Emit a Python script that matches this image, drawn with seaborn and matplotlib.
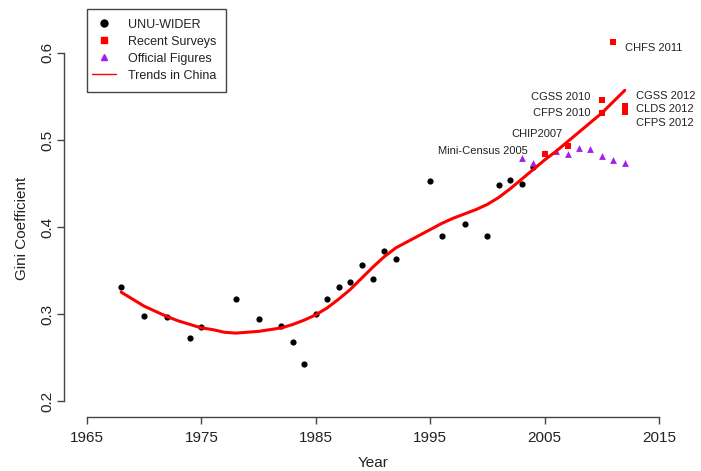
import matplotlib
matplotlib.use('Agg')
import pandas as pd
import matplotlib.pyplot as plt
import seaborn as sns
from matplotlib.lines import Line2D
from matplotlib.patches import Rectangle
from matplotlib.transforms import IdentityTransform

# UNU-WIDER estimates
wider_years = [1968, 1970, 1972, 1974, 1975, 1978, 1980, 1982, 1983, 1984,
               1985, 1986, 1987, 1988, 1989, 1990, 1991, 1992, 1995, 1996,
               1998, 2000, 2001, 2002, 2003, 2004]
wider_gini = [0.331, 0.298, 0.297, 0.272, 0.285, 0.317, 0.294, 0.286, 0.268, 0.243,
              0.300, 0.317, 0.331, 0.337, 0.356, 0.340, 0.372, 0.363, 0.453, 0.390,
              0.403, 0.390, 0.448, 0.454, 0.449, 0.469]

# recent household surveys
survey_names = ['Mini-Census 2005', 'CHIP2007', 'CGSS 2010', 'CFPS 2010',
                'CHFS 2011', 'CGSS 2012', 'CLDS 2012', 'CFPS 2012']
survey_years = [2005, 2007, 2010, 2010, 2011, 2012, 2012, 2012]
survey_gini = [0.484, 0.493, 0.546, 0.531, 0.612, 0.539, 0.536, 0.532]

# official NBS figures
official_years = [2003, 2004, 2005, 2006, 2007, 2008, 2009, 2010, 2011, 2012]
official_gini = [0.479, 0.473, 0.485, 0.487, 0.484, 0.491, 0.490, 0.481, 0.477, 0.474]

# trend line
trend_years = list(range(1968, 2013))
trend_gini = [0.325, 0.317, 0.309, 0.303, 0.297, 0.292, 0.288, 0.284, 0.282, 0.279,
              0.278, 0.279, 0.280, 0.282, 0.284, 0.288, 0.293, 0.299, 0.307, 0.317,
              0.328, 0.341, 0.354, 0.366, 0.376, 0.383, 0.390, 0.397, 0.404, 0.410,
              0.415, 0.420, 0.426, 0.434, 0.444, 0.455, 0.466, 0.477, 0.487, 0.498,
              0.509, 0.520, 0.531, 0.544, 0.557]

# where each survey label sits (x, y, alignment)
label_pos = {
    'Mini-Census 2005': (2003.5, 0.487, 'right'),
    'CHIP2007': (2006.55, 0.507, 'right'),
    'CGSS 2010': (2009.0, 0.549, 'right'),
    'CFPS 2010': (2009.0, 0.531, 'right'),
    'CHFS 2011': (2012.0, 0.606, 'left'),
    'CGSS 2012': (2013.0, 0.551, 'left'),
    'CLDS 2012': (2013.0, 0.536, 'left'),
    'CFPS 2012': (2013.0, 0.520, 'left'),
}

wider = pd.DataFrame({'Year': wider_years, 'Gini': wider_gini})
surveys = pd.DataFrame({'Year': survey_years, 'Gini': survey_gini, 'Name': survey_names})
official = pd.DataFrame({'Year': official_years, 'Gini': official_gini})
trend = pd.DataFrame({'Year': trend_years, 'Gini': trend_gini})

sns.set_style('ticks')
plt.rcParams['font.family'] = ['Liberation Sans', 'DejaVu Sans']

fig = plt.figure(figsize=(7.01, 4.71), dpi=100)
ax = fig.add_axes([64 / 701, 1 - 417 / 471, 618 / 701, 378 / 471])

purple = '#A020F0'
sns.scatterplot(data=wider, x='Year', y='Gini', color='black', marker='o',
                s=20, linewidth=0, ax=ax, zorder=3)
sns.scatterplot(data=official, x='Year', y='Gini', color=purple, marker='^',
                s=24, linewidth=0, ax=ax, zorder=3)
sns.scatterplot(data=surveys, x='Year', y='Gini', color='red', marker='s',
                s=20, linewidth=0, ax=ax, zorder=4)
sns.lineplot(data=trend, x='Year', y='Gini', color='red', linewidth=2.2, ax=ax, zorder=5)

for name in survey_names:
    lx, ly, ha = label_pos[name]
    ax.text(lx, ly, name, ha=ha, va='center', fontsize=8, color='#222222')

ax.set_xlim(1963, 2017)
ax.set_ylim(0.1816, 0.616)
ax.set_xticks([1965, 1975, 1985, 1995, 2005, 2015])
ax.set_yticks([0.2, 0.3, 0.4, 0.5, 0.6])
ax.set_yticklabels(['0.2', '0.3', '0.4', '0.5', '0.6'], rotation=90, va='center')

for side in ['top', 'right']:
    ax.spines[side].set_visible(False)
ax.spines['left'].set_bounds(0.2, 0.6)
ax.spines['bottom'].set_bounds(1965, 2015)
for side in ['left', 'bottom']:
    ax.spines[side].set_color('#444444')
    ax.spines[side].set_linewidth(1)
ax.tick_params(axis='both', length=5, width=1, color='#444444', labelsize=11, labelcolor='#222222')
ax.tick_params(axis='x', pad=5)
ax.tick_params(axis='y', pad=2)

ax.set_xlabel('Year', fontsize=11, color='#222222', labelpad=8)
ax.set_ylabel('Gini Coefficient', fontsize=11, color='#222222', labelpad=8)

handles = [
    Line2D([], [], marker='o', color='black', linestyle='none', markersize=5),
    Line2D([], [], marker='s', color='red', linestyle='none', markersize=5),
    Line2D([], [], marker='^', color=purple, linestyle='none', markersize=5),
    Line2D([], [], color='red', linewidth=1),
]
leg = ax.legend(handles, ['UNU-WIDER', 'Recent Surveys', 'Official Figures', 'Trends in China'],
                loc='upper left', bbox_to_anchor=(1965, 0.645), bbox_transform=ax.transData,
                fontsize=9, frameon=True, fancybox=False, framealpha=0,
                borderpad=0.4, labelspacing=0.4,
                handlelength=1.9, handletextpad=1.0, borderaxespad=0)
leg.get_frame().set_linewidth(0)
for t in leg.get_texts():
    t.set_color('#222222')

# R-style legend box: taller than matplotlib's padding allows
fig.canvas.draw()
bb = leg.get_window_extent()
box = Rectangle((bb.x0, bb.y0 - 5), bb.width + 4, bb.height + 10, transform=IdentityTransform(),
                fill=False, edgecolor='#444444', linewidth=1, zorder=10)
fig.patches.append(box)

fig.savefig('out.png', dpi=100)
